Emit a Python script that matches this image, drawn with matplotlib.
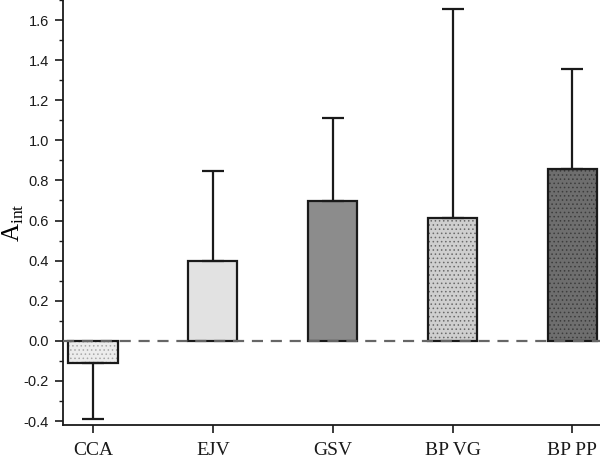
import matplotlib
matplotlib.use("Agg")
import matplotlib.pyplot as plt
from matplotlib.ticker import MultipleLocator

categories = ["CCA", "EJV", "GSV", "BP VG", "BP PP"]
values = [-0.11, 0.40, 0.695, 0.615, 0.855]
errors = [0.28, 0.445, 0.415, 1.04, 0.50]
face_colors = ["#ececec", "#e2e2e2", "#8c8c8c", "#cfcfcf", "#6e6e6e"]
dot_colors = ["#a8a8a8", "#e2e2e2", "#8c8c8c", "#6a6a6a", "#3c3c3c"]
hatches = ["....", None, None, "....", "...."]

plt.rcParams['hatch.linewidth'] = 0.6

fig = plt.figure(figsize=(6.0, 4.58), dpi=100)
ax = fig.add_axes([0.105, 0.072, 0.895, 0.928])

x = list(range(len(categories)))
w = 0.41
for i in x:
    ax.bar(i, values[i], width=w, color=face_colors[i], edgecolor=dot_colors[i],
           hatch=hatches[i], linewidth=0, zorder=2)
    ax.bar(i, values[i], width=w, facecolor="none", edgecolor="#1a1a1a",
           linewidth=1.6, zorder=3)
    lo = errors[i] if values[i] < 0 else 0
    hi = errors[i] if values[i] >= 0 else 0
    ax.errorbar(i, values[i], yerr=[[lo], [hi]], fmt="none", ecolor="#1a1a1a",
                elinewidth=1.6, capsize=8, capthick=1.6, zorder=4)

ax.axhline(0, color="#666666", linestyle=(0, (5, 3.5)), linewidth=1.6, zorder=5)

ax.set_xlim(-0.25, 4.23)
ax.set_ylim(-0.42, 1.70)
ax.yaxis.set_minor_locator(MultipleLocator(0.1))
ax.set_yticks([-0.4, -0.2, 0.0, 0.2, 0.4, 0.6, 0.8, 1.0, 1.2, 1.4, 1.6])
ax.set_yticklabels(["-0.4", "-0.2", "0.0", "0.2", "0.4", "0.6", "0.8", "1.0", "1.2", "1.4", "1.6"],
                   fontfamily="Liberation Sans", fontsize=10.5)
ax.set_xticks(x)
ax.set_xticklabels(categories, fontfamily="Liberation Serif", fontsize=14)

for s in ["top", "right"]:
    ax.spines[s].set_visible(False)
for s in ["left", "bottom"]:
    ax.spines[s].set_linewidth(1.3)
    ax.spines[s].set_color("#1a1a1a")

ax.tick_params(axis="both", which="major", direction="out", length=6, width=1.2, colors="#1a1a1a")
ax.tick_params(axis="x", which="major", pad=6)
ax.tick_params(axis="y", which="major", pad=4)
ax.tick_params(axis="y", which="minor", direction="out", length=3, width=1.0, colors="#1a1a1a")
ax.tick_params(axis="x", which="minor", bottom=False)

ax.set_ylabel(r"A$_{\mathregular{int}}$", fontfamily="Liberation Serif", fontsize=18)
ax.yaxis.set_label_coords(-0.068, 0.475)

fig.savefig("out.png", dpi=100)
